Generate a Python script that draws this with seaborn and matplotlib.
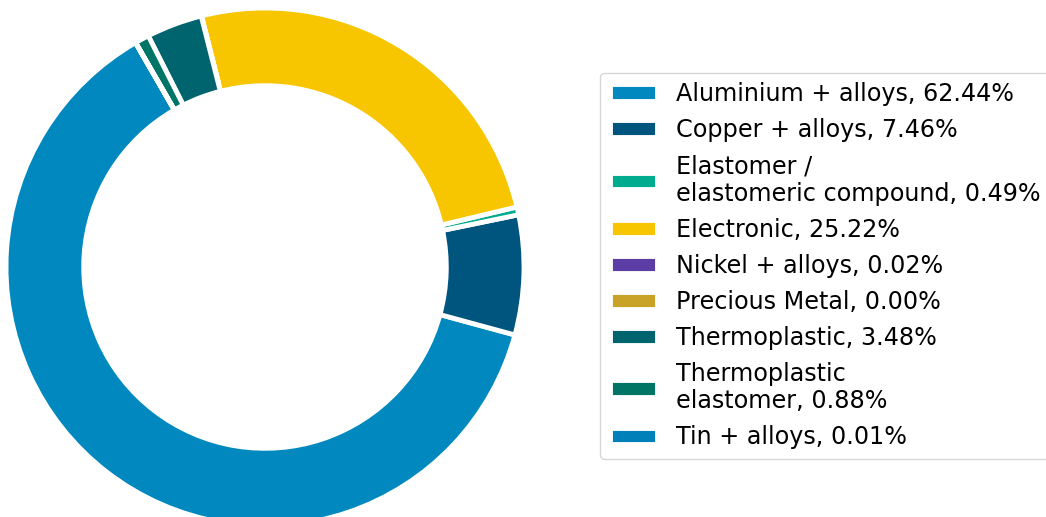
import matplotlib
matplotlib.use("Agg")
import matplotlib.pyplot as plt
import seaborn as sns


# Material composition data
materials = [
    "Aluminium + alloys",
    "Copper + alloys",
    "Elastomer /\nelastomeric compound",
    "Electronic",
    "Nickel + alloys",
    "Precious Metal",
    "Thermoplastic",
    "Thermoplastic\nelastomer",
    "Tin + alloys",
]
shares = [62.44, 7.46, 0.49, 25.22, 0.02, 0.00, 3.48, 0.88, 0.01]
colors = [
    "#0088BF", "#00557F", "#00AB8E", "#F7C600", "#5C3CA5",
    "#C9A228", "#00646E", "#007465", "#0080B8",
]

sns.set_style("white")
palette = sns.color_palette(colors)

fig = plt.figure(figsize=(10.46, 5.17), dpi=100)

# donut axes
ax = fig.add_axes([6 / 1046, -9 / 517, 518 / 1046, 518 / 517])
wedges, _ = ax.pie(
    shares,
    colors=palette,
    startangle=120,
    counterclock=True,
    wedgeprops=dict(width=0.3, edgecolor="white", linewidth=3.5),
)
ax.set_xlim(-1, 1)
ax.set_ylim(-1, 1)
ax.set_aspect("equal")
ax.axis("off")

labels = [f"{m}, {s:.2f}%" for m, s in zip(materials, shares)]
fig.legend(
    wedges,
    labels,
    loc="center left",
    bbox_to_anchor=(600 / 1046, 0.486),
    borderaxespad=0,
    fontsize=17.2,
    labelcolor="black",
)

fig.savefig("out.png", dpi=100)
